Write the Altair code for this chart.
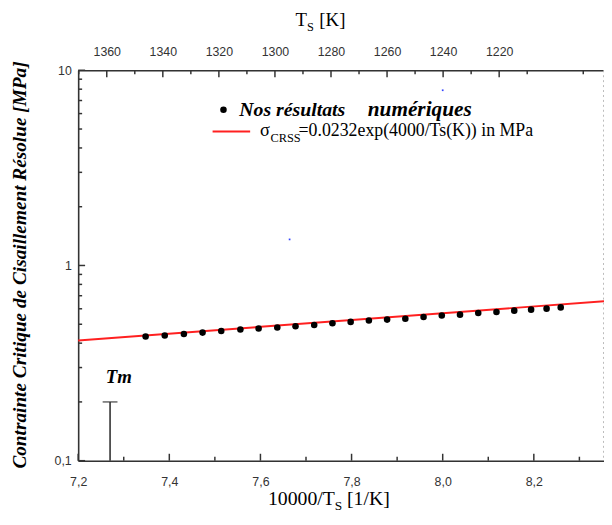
import altair as alt
import pandas as pd

# ---- data ----
inv_T = [7.348, 7.390, 7.432, 7.473, 7.514, 7.556, 7.596, 7.637, 7.677, 7.718, 7.758, 7.798,
         7.838, 7.878, 7.918, 7.958, 7.998, 8.038, 8.078, 8.118, 8.157, 8.194, 8.228, 8.259]
crss = [0.433, 0.438, 0.446, 0.453, 0.462, 0.470, 0.475, 0.481, 0.488, 0.496, 0.506, 0.514,
        0.522, 0.528, 0.534, 0.545, 0.554, 0.560, 0.571, 0.578, 0.587, 0.594, 0.601, 0.610]
fit_x = [7.2, 8.354]
fit_y = [0.413, 0.656]
tm_x = [7.27]
tm_low = [0.1]
tm_high = [0.2]
stray_x = [8.0, 7.664]
stray_y = [7.9, 1.36]

x_major = [7.2, 7.4, 7.6, 7.8, 8.0, 8.2]
x_minor = [7.3, 7.5, 7.7, 7.9, 8.1, 8.3]
y_major = [0.1, 1, 10]
y_minor = [0.2, 0.3, 0.4, 0.5, 0.6, 0.7, 0.8, 0.9, 2, 3, 4, 5, 6, 7, 8, 9]
T_major = [1360, 1340, 1320, 1300, 1280, 1260, 1240, 1220]
T_minor = [1370, 1350, 1330, 1310, 1290, 1270, 1250, 1230, 1210, 1190]

W, H = 532, 395
AX = "#333333"
SANS = "Liberation Sans"
SERIF = "Liberation Serif"

xs = alt.Scale(domain=[7.2, 8.354], nice=False, zero=False)
ys = alt.Scale(type="log", domain=[0.1, 10], nice=False)
Ts = alt.Scale(domain=[1182.6, 1370.2], nice=False, zero=False, reverse=True)

common = dict(tickSize=0, domainColor=AX, domainWidth=1.6, labelFont=SANS, labelFontSize=12.5,
              labelColor=AX, grid=False, title=None, labelFlush=False, labelOverlap=False)
xaxis = alt.Axis(values=x_major, labelExpr="replace(format(datum.value, '.1f'), '.', ',')",
                 labelPadding=15, **common)
yaxis = alt.Axis(values=y_major, labelExpr="replace(format(datum.value, '~g'), '.', ',')",
                 labelPadding=7, **common)
taxis = alt.Axis(values=T_major, format="d", orient="top", labelPadding=12, **common)

X = lambda: alt.X("x:Q", scale=xs, axis=xaxis)
Y = lambda: alt.Y("y:Q", scale=ys, axis=yaxis)

df_pts = pd.DataFrame({"x": inv_T, "y": crss})
df_fit = pd.DataFrame({"x": fit_x, "y": fit_y})
df_tm = pd.DataFrame({"x": tm_x, "y": tm_low, "y2": tm_high})
df_tmcap = pd.DataFrame({"x": tm_x, "y": tm_high})
df_stray = pd.DataFrame({"x": stray_x, "y": stray_y})

RED = "#ff2020"
fit = alt.Chart(df_fit).mark_line(color=RED, strokeWidth=2).encode(x=X(), y=Y())
pts = alt.Chart(df_pts).mark_circle(color="black", opacity=1, size=44).encode(x=X(), y=Y())
tm_rule = alt.Chart(df_tm).mark_rule(color=AX, strokeWidth=1.6).encode(x=X(), y=Y(), y2="y2:Q")
tm_cap = alt.Chart(df_tmcap).mark_tick(color=AX, orient="horizontal", size=15, thickness=1.6).encode(x=X(), y=Y())
stray = alt.Chart(df_stray).mark_square(color="#3344ff", size=3, opacity=1).encode(x=X(), y=Y())

xmaj = alt.Chart(pd.DataFrame({"x": x_major})).mark_rule(color=AX, strokeWidth=1.5).encode(
    x=X(), y=alt.value(H), y2=alt.value(H - 7))
xmin = alt.Chart(pd.DataFrame({"x": x_minor})).mark_rule(color=AX, strokeWidth=1.5).encode(
    x=X(), y=alt.value(H), y2=alt.value(H - 4))
ymaj = alt.Chart(pd.DataFrame({"y": y_major})).mark_rule(color=AX, strokeWidth=1.5).encode(
    y=Y(), x=alt.value(0), x2=alt.value(7))
ymin = alt.Chart(pd.DataFrame({"y": y_minor})).mark_rule(color=AX, strokeWidth=1.5).encode(
    y=Y(), x=alt.value(0), x2=alt.value(4))

right_edge = alt.Chart(pd.DataFrame({"a": [0]})).mark_rule(
    color="#bbbbbb", strokeWidth=1, strokeDash=[2, 3]).encode(
    x=alt.value(W - 0.5), y=alt.value(0), y2=alt.value(H))


def txt(t, x, y, size, font=SERIF, style="normal", weight="normal", align="left",
        baseline="alphabetic", angle=0, color="black"):
    return alt.Chart(pd.DataFrame({"t": [t]})).mark_text(
        font=font, fontSize=size, fontStyle=style, fontWeight=weight, align=align,
        baseline=baseline, angle=angle, color=color).encode(
        x=alt.value(x), y=alt.value(y), text="t:N")


legend_dot = alt.Chart(pd.DataFrame({"a": [0]})).mark_circle(color="black", size=44, opacity=1).encode(
    x=alt.value(147), y=alt.value(40))
legend_line = alt.Chart(pd.DataFrame({"a": [0]})).mark_rule(color=RED, strokeWidth=2).encode(
    x=alt.value(136), x2=alt.value(174), y=alt.value(62))

texts = [
    txt("Nos résultats", 163, 46, 20, style="italic", weight="bold"),
    txt("numériques", 293, 46, 21.5, style="italic", weight="bold"),
    txt("σ", 184, 67, 18.5),
    txt("CRSS", 194.5, 73, 12.5),
    txt("=0.0232exp(4000/Ts(K)) in MPa", 223, 67, 18),
    txt("Tm", 28, 316, 19, style="italic", weight="bold"),
    # x title
    txt("10000/T", 192, 440, 20),
    txt("S", 259.5, 445, 13.5),
    txt("[1/K]", 272, 440, 20),
    # top title
    txt("T", 220, -45, 19),
    txt("S", 231.5, -40, 12.5),
    txt("[K]", 244, -45, 19),
    # y title
    txt("Contrainte Critique de Cisaillement Résolue [MPa]", -59, 197, 19.5, style="italic",
        weight="bold", align="center", baseline="middle", angle=270),
]

main = alt.layer(fit, pts, tm_rule, tm_cap, stray, xmaj, xmin, ymaj, ymin, right_edge,
                 legend_dot, legend_line, *texts)

tmaj = alt.Chart(pd.DataFrame({"T": T_major})).mark_rule(color=AX, strokeWidth=1.5).encode(
    x=alt.X("T:Q", scale=Ts, axis=taxis), y=alt.value(0), y2=alt.value(7))
tmin = alt.Chart(pd.DataFrame({"T": T_minor})).mark_rule(color=AX, strokeWidth=1.5).encode(
    x=alt.X("T:Q", scale=Ts, axis=taxis), y=alt.value(0), y2=alt.value(4))
top = alt.layer(tmaj, tmin)

chart = alt.layer(main, top).resolve_scale(x="independent").properties(
    width=W, height=H,
    autosize=alt.AutoSizeParams(type="none"),
    padding={"left": 71, "top": 60, "right": 0, "bottom": 56},
).configure_view(stroke=None).configure(background="white")

chart.save("out.html", embed_options={"renderer": "svg", "actions": False})
